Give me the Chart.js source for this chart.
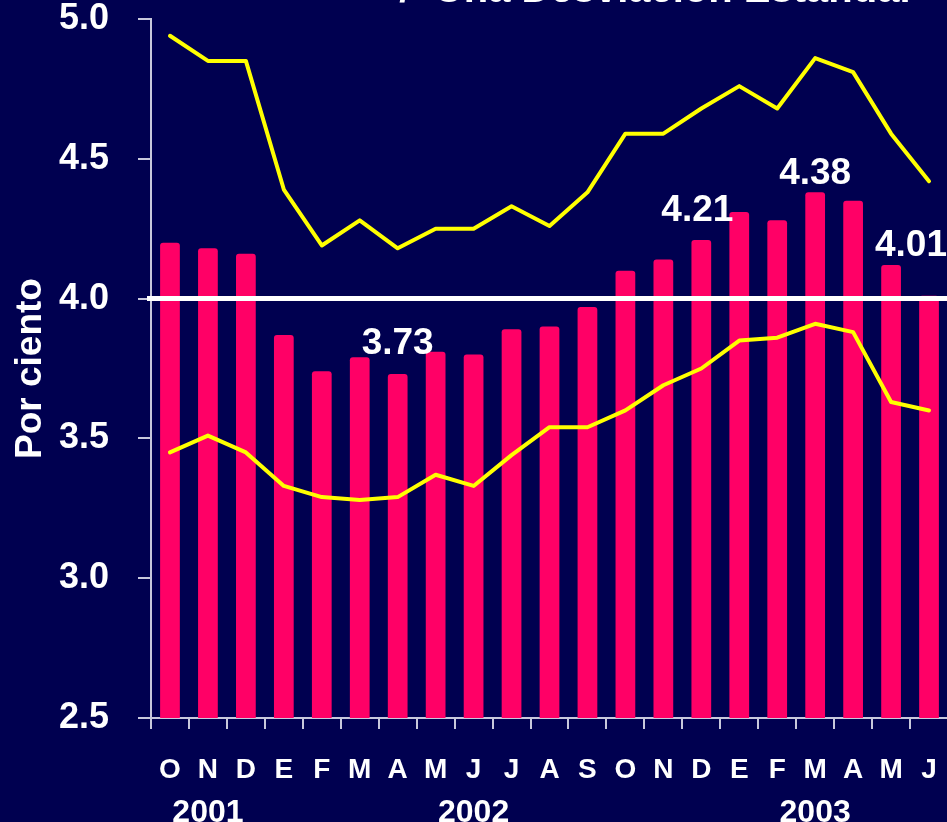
<!DOCTYPE html>
<html>
<head>
<meta charset="utf-8">
<script src="https://cdn.jsdelivr.net/npm/chart.js@4.4.1/dist/chart.umd.min.js"></script>
<style>
	html, body { margin: 0; padding: 0; background: #000050; overflow: hidden; }
	canvas { display: block; }
</style>
</head>
<body>
<canvas id="myChart" width="950" height="822"></canvas>
<script>
// monthly categories, Oct 2001 .. Jun 2003
var months = ["O", "N", "D", "E", "F", "M", "A", "M", "J", "J", "A", "S", "O", "N", "D", "E", "F", "M", "A", "M", "J"];
var years = ["", "2001", "", "", "", "", "", "", "2002", "", "", "", "", "", "", "", "", "2003", "", "", ""];

var expectativa = [4.20, 4.18, 4.16, 3.87, 3.74, 3.79, 3.73, 3.81, 3.80, 3.89, 3.90, 3.97, 4.10, 4.14, 4.21, 4.31, 4.28, 4.38, 4.35, 4.12, 4.01];
var bandaSup = [4.94, 4.85, 4.85, 4.39, 4.19, 4.28, 4.18, 4.25, 4.25, 4.33, 4.26, 4.38, 4.59, 4.59, 4.68, 4.76, 4.68, 4.86, 4.81, 4.59, 4.42];
var bandaInf = [3.45, 3.51, 3.45, 3.33, 3.29, 3.28, 3.29, 3.37, 3.33, 3.44, 3.54, 3.54, 3.60, 3.69, 3.75, 3.85, 3.86, 3.91, 3.88, 3.63, 3.60];

var yTicks = [2.5, 3.0, 3.5, 4.0, 4.5, 5.0];
var meta = 4.0;
var labeledBars = [6, 14, 17, 20];

var titulo = "+/- Una Desviación Estándar";
var font = '"Liberation Sans", Arial, sans-serif';

// label nudges (pixels), kept apart from the data
var labelNudge = { 6: [0, 20], 14: [-4, 19], 17: [0, 8], 20: [-18, 40] };

var noPad = function(s) {
	s.paddingTop = 0;
	s.paddingBottom = 0;
	s.paddingLeft = 0;
	s.paddingRight = 0;
};

var extras = {
	id: 'extras',
	afterDatasetsDraw: function(chart) {
		var ctx = chart.ctx;
		var area = chart.chartArea;
		var py = chart.scales.y.getPixelForValue(meta);
		ctx.save();
		ctx.strokeStyle = '#ffffff';
		ctx.lineWidth = 5;
		ctx.beginPath();
		ctx.moveTo(area.left - 4, py);
		ctx.lineTo(chart.width, py);
		ctx.stroke();

		var bars = chart.getDatasetMeta(2).data;
		ctx.fillStyle = '#ffffff';
		ctx.font = 'bold 37px ' + font;
		ctx.textAlign = 'center';
		ctx.textBaseline = 'alphabetic';
		for (var i = 0; i < labeledBars.length; i++) {
			var k = labeledBars[i];
			var nudge = labelNudge[k] || [0, 18];
			ctx.fillText(expectativa[k].toFixed(2), bars[k].x + nudge[0], bars[k].y - nudge[1]);
		}
		ctx.restore();
	},
	afterDraw: function(chart) {
		var ctx = chart.ctx;
		ctx.save();
		ctx.fillStyle = '#ffffff';
		ctx.font = 'bold 40px ' + font;
		ctx.textAlign = 'right';
		ctx.textBaseline = 'alphabetic';
		ctx.fillText(titulo, 915, 2);
		ctx.restore();
	}
};

var ctx = document.getElementById("myChart");
var myChart = new Chart(ctx, {
	type: 'bar',
	data: {
		labels: months,
		datasets: [{
			type: 'line',
			label: 'Promedio + 1 DE',
			data: bandaSup,
			borderColor: '#ffff00',
			borderWidth: 4,
			pointRadius: 0,
			tension: 0,
			borderJoinStyle: 'round',
			borderCapStyle: 'round',
			order: 1
		}, {
			type: 'line',
			label: 'Promedio - 1 DE',
			data: bandaInf,
			borderColor: '#ffff00',
			borderWidth: 4,
			pointRadius: 0,
			tension: 0,
			borderJoinStyle: 'round',
			borderCapStyle: 'round',
			order: 1
		}, {
			type: 'bar',
			label: 'Expectativa',
			data: expectativa,
			backgroundColor: '#ff0066',
			borderRadius: { topLeft: 3, topRight: 3 },
			borderSkipped: 'start',
			categoryPercentage: 1,
			barPercentage: 0.52,
			order: 2
		}]
	},
	options: {
		responsive: false,
		animation: false,
		devicePixelRatio: 1,
		layout: { padding: { top: 19, right: 2, left: 0, bottom: 0 } },
		plugins: {
			legend: { display: false },
			tooltip: { enabled: false }
		},
		scales: {
			x: {
				type: 'category',
				position: 'bottom',
				offset: true,
				grid: { display: true, drawOnChartArea: false, drawTicks: true, tickLength: 11, offset: true, color: '#c8c8dc', lineWidth: 2 },
				border: { display: true, color: '#c8c8dc', width: 2 },
				ticks: {
					color: '#ffffff',
					font: { family: font, size: 28, weight: 'bold', lineHeight: 1.2 },
					padding: 24,
					autoSkip: false,
					maxRotation: 0
				},
				afterFit: function(s) { s.height = 60; noPad(s); }
			},
			x2: {
				type: 'category',
				position: 'bottom',
				labels: years,
				offset: true,
				grid: { display: false },
				border: { display: false },
				ticks: {
					color: '#ffffff',
					font: { family: font, size: 32, weight: 'bold', lineHeight: 1.2 },
					padding: 8,
					autoSkip: false,
					maxRotation: 0
				},
				afterFit: function(s) { s.height = 44; noPad(s); }
			},
			y: {
				min: yTicks[0],
				max: yTicks[yTicks.length - 1],
				afterBuildTicks: function(s) {
					s.ticks = yTicks.map(function(v) { return { value: v }; });
				},
				grid: { display: true, drawOnChartArea: false, drawTicks: true, tickLength: 13, color: '#c8c8dc', lineWidth: 2 },
				border: { display: true, color: '#c8c8dc', width: 2 },
				ticks: {
					color: '#ffffff',
					font: { family: font, size: 36, weight: 'bold', lineHeight: 1 },
					padding: 29,
					callback: function(v) { return Number(v).toFixed(1); }
				},
				title: {
					display: true,
					text: 'Por ciento',
					color: '#ffffff',
					font: { family: font, size: 37, weight: 'bold', lineHeight: 1.2 },
					padding: { top: 9, bottom: 0 }
				},
				afterFit: function(s) { s.width = 151; noPad(s); }
			}
		}
	},
	plugins: [extras]
});
console.log(myChart.chartArea);
</script>
</body>
</html>
